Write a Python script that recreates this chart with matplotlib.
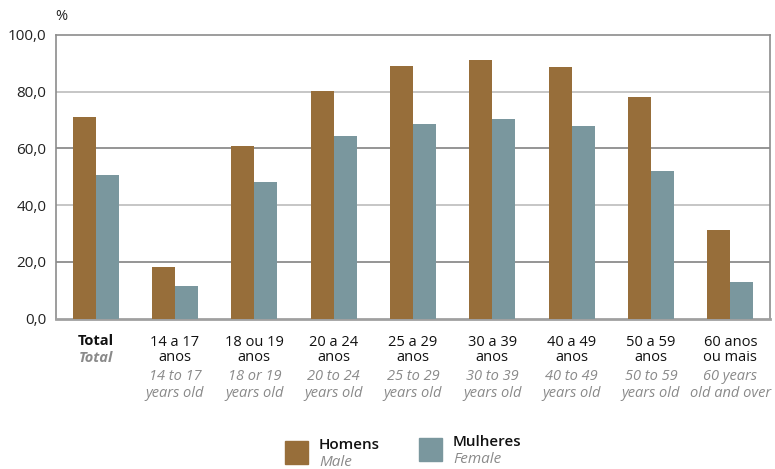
import matplotlib.pyplot as plt
from matplotlib.patches import Rectangle
from matplotlib.transforms import blended_transform_factory
import numpy as np

plt.rcParams['font.family'] = ['Open Sans', 'DejaVu Sans']

# categorias (pt) e traducao (en)
labels_pt = ['Total', '14 a 17\nanos', '18 ou 19\nanos', '20 a 24\nanos', '25 a 29\nanos',
             '30 a 39\nanos', '40 a 49\nanos', '50 a 59\nanos', '60 anos\nou mais']
labels_en = ['Total', '14 to 17\nyears old', '18 or 19\nyears old', '20 to 24\nyears old',
             '25 to 29\nyears old', '30 to 39\nyears old', '40 to 49\nyears old',
             '50 to 59\nyears old', '60 years\nold and over']

homens = [71.0, 18.1, 60.8, 80.2, 89.1, 91.2, 88.7, 78.1, 31.2]
mulheres = [50.5, 11.4, 48.1, 64.3, 68.6, 70.3, 67.9, 52.0, 12.8]

yticks = [0, 20, 40, 60, 80, 100]

c_h = '#976e3a'
c_m = '#7a979e'
grey_txt = '#8a8a8a'

W, H = 775, 469
fig = plt.figure(figsize=(W / 100, H / 100), dpi=100)
ax = fig.add_axes([56 / W, (H - 318.5) / H, 714 / W, 283.5 / H])

x = np.arange(len(labels_pt))
bw = 0.29
ax.bar(x - bw / 2, homens, bw, color=c_h, zorder=3)
ax.bar(x + bw / 2, mulheres, bw, color=c_m, zorder=3)

ax.set_xlim(-0.5, len(x) - 0.5)
ax.set_ylim(0, 100)
ax.set_yticks(yticks)
ax.set_yticklabels([f'{v:.1f}'.replace('.', ',') for v in yticks], fontsize=11, color='#222222')
ax.tick_params(axis='y', length=0, pad=7)
ax.set_xticks([])

# linhas de grade alternando tons
for v in yticks[1:-1]:
    col = '#c2c2c2' if v in (40, 80) else '#8c8c8c'
    ax.axhline(v, color=col, lw=1.3, zorder=1)

for side in ['top', 'right', 'left']:
    ax.spines[side].set_color('#8c8c8c')
    ax.spines[side].set_linewidth(1.2)
ax.spines['bottom'].set_color('#a0a0a0')
ax.spines['bottom'].set_linewidth(2)

fig.text(55 / W, 1 - 16 / H, '%', fontsize=10.5, ha='left', va='center', color='#222222')

# rotulos das categorias
tr = blended_transform_factory(ax.transData, fig.transFigure)
for i, (pt, en) in enumerate(zip(labels_pt, labels_en)):
    if i == 0:
        ax.text(i, 1 - 341 / H, pt, transform=tr, ha='center', va='center',
                fontsize=10.5, fontweight='bold', color='#111111')
        ax.text(i, 1 - 358 / H, en, transform=tr, ha='center', va='center',
                fontsize=10.5, fontweight='bold', style='italic', color=grey_txt)
    else:
        ax.text(i, 1 - 350 / H, pt, transform=tr, ha='center', va='center',
                fontsize=10.5, color='#111111', linespacing=1.05)
        ax.text(i, 1 - 385 / H, en, transform=tr, ha='center', va='center',
                fontsize=10.5, style='italic', color=grey_txt, linespacing=1.12)

# legenda
for px, py, col, t1, t2 in [(285, 441, c_h, 'Homens', 'Male'),
                            (419, 438, c_m, 'Mulheres', 'Female')]:
    fig.add_artist(Rectangle((px / W, 1 - (py + 23) / H), 23 / W, 23 / H,
                             transform=fig.transFigure, color=col))
    fig.text((px + 34) / W, 1 - (py + 4) / H, t1, fontsize=11, ha='left', va='center',
             color='#111111', fontweight='semibold')
    fig.text((px + 34) / W, 1 - (py + 21) / H, t2, fontsize=11, ha='left', va='center',
             style='italic', color=grey_txt)

fig.savefig('out.png', dpi=100)
